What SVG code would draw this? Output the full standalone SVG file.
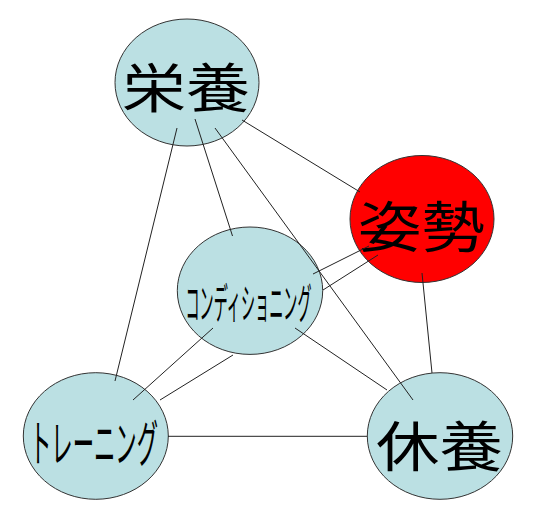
<svg xmlns="http://www.w3.org/2000/svg" width="541" height="522" viewBox="0 0 541 522">
<style>
.n{fill:#BBE0E3;stroke:#333;stroke-width:1}
.r{fill:#FF0000;stroke:#333;stroke-width:1}
.t{font-family:"Noto Sans CJK JP","Noto Sans CJK SC",sans-serif;fill:#000;text-anchor:middle;dominant-baseline:central}
#edges line{stroke:#222;stroke-width:1}
</style>
<rect width="541" height="522" fill="#fff"/>
<g id="node-eiyou">
<ellipse class="n" cx="187" cy="82.5" rx="72" ry="63.5"/>
<text class="t" x="186" y="85" font-size="53" textLength="128" lengthAdjust="spacingAndGlyphs">栄養</text>
</g>
<g id="node-shisei">
<ellipse class="r" cx="422" cy="219" rx="72" ry="63.5"/>
<text class="t" x="421.5" y="223" font-size="55" textLength="127" lengthAdjust="spacingAndGlyphs">姿勢</text>
</g>
<g id="node-conditioning">
<ellipse class="n" cx="250" cy="290.7" rx="72.7" ry="63.7"/>
<text class="t" transform="translate(248.5 301) scale(0.336 1)" x="0" y="0" font-size="42">コンディショニング</text>
</g>
<g id="node-training">
<ellipse class="n" cx="95.8" cy="436" rx="72.5" ry="63.3"/>
<text class="t" x="94" y="440" font-size="50" textLength="128" lengthAdjust="spacingAndGlyphs">トレーニング</text>
</g>
<g id="node-kyuuyou">
<ellipse class="n" cx="440" cy="436" rx="72.7" ry="63.3"/>
<text class="t" x="439.5" y="443" font-size="54" textLength="127" lengthAdjust="spacingAndGlyphs">休養</text>
</g>
<g id="edges">
<line x1="177" y1="128" x2="115" y2="381"/>
<line x1="195" y1="119" x2="232.5" y2="236"/>
<line x1="215" y1="128" x2="413" y2="400"/>
<line x1="242" y1="120" x2="360" y2="192"/>
<line x1="369" y1="246" x2="313" y2="274"/>
<line x1="378" y1="255" x2="323" y2="290"/>
<line x1="422" y1="273" x2="432" y2="373"/>
<line x1="213" y1="328" x2="133" y2="400"/>
<line x1="233" y1="355" x2="160" y2="400"/>
<line x1="168" y1="436.3" x2="367" y2="436.3"/>
<line x1="295" y1="328" x2="387" y2="390"/>
</g>
</svg>
